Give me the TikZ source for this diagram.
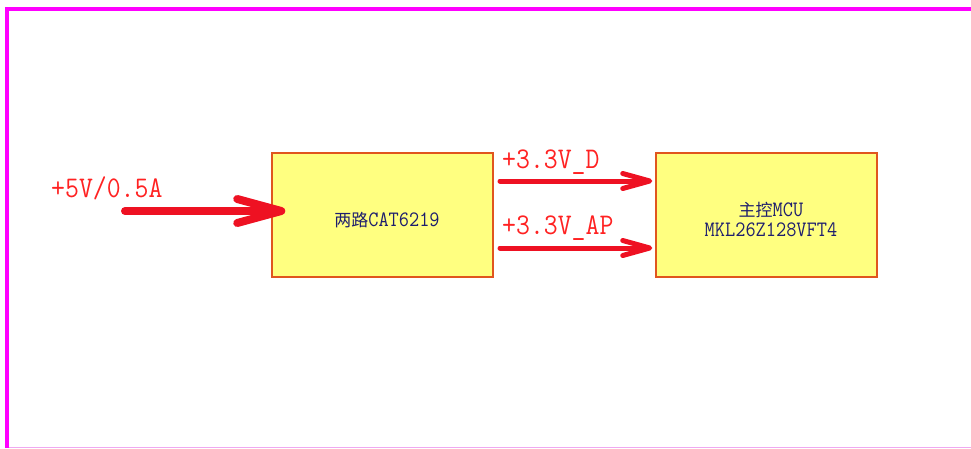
\documentclass[tikz,border=0pt]{standalone}
\usepackage{fontspec}
\newfontfamily\cjk{Noto Sans CJK SC}
\newfontfamily\monoS[FakeStretch=0.9]{Latin Modern Mono}
\usetikzlibrary{arrows.meta}
\definecolor{frameMag}{HTML}{FF00FF}
\definecolor{frameLight}{HTML}{F0A8F0}
\definecolor{arrowRed}{HTML}{EE1122}
\definecolor{labelRed}{HTML}{FF2222}
\definecolor{boxFill}{HTML}{FFFF80}
\definecolor{boxLine}{HTML}{E0561E}
\definecolor{boxText}{HTML}{1E1E6E}
\newcommand{\zh}[1]{{\cjk\fontsize{17pt}{20pt}\selectfont #1}}
\tikzset{
  blk/.style={draw=boxLine, fill=boxFill, line width=1.5pt, minimum width=221pt, minimum height=124pt, inner sep=0pt},
  boxtxt/.style={text=boxText, font=\monoS\fontsize{22pt}{20pt}\selectfont, inner sep=0pt, align=center},
  lbl/.style={text=labelRed, font=\monoS\fontsize{30pt}{30pt}\selectfont, inner sep=0pt, anchor=base west},
  bigarrow/.style={draw=arrowRed, line width=8pt, line cap=round, -{Straight Barb[round, length=44pt, width=24pt]}},
  smallarrow/.style={draw=arrowRed, line width=5pt, line cap=round, -{Straight Barb[round, length=27pt, width=15pt]}}
}
\begin{document}
\begin{tikzpicture}[x=1pt,y=-1pt]
\useasboundingbox (0,0) rectangle (971,448);
\draw[frameMag, line width=4.5pt] (7,448) -- (7,9) -- (971,9);
\draw[frameLight, line width=1pt] (9,447) -- (971,447);
\node[blk] (b1) at (382.5,215) {};
\node[blk] (b2) at (766.5,215) {};
\node[boxtxt] (t1) at (387,220) {\zh{两路}CAT6219};
\node[boxtxt] (t2) at (771,219) {\zh{主控}MCU\\MKL26Z128VFT4};
\coordinate (in) at (125,211);
\coordinate (d) at (500,181);
\coordinate (ap) at (500,248);
\draw[bigarrow] (in) -- ([xshift=14pt]in -| b1.west);
\draw[smallarrow] (d) -- ([xshift=-3pt]d -| b2.west);
\draw[smallarrow] (ap) -- ([xshift=-3pt]ap -| b2.west);
\node[lbl] (l5) at (51,197) {+5V/0.5A};
\node[lbl] (ld) at (502,168) {+3.3V\_D};
\node[lbl] (lap) at (502,234) {+3.3V\_AP};
\end{tikzpicture}
\end{document}
